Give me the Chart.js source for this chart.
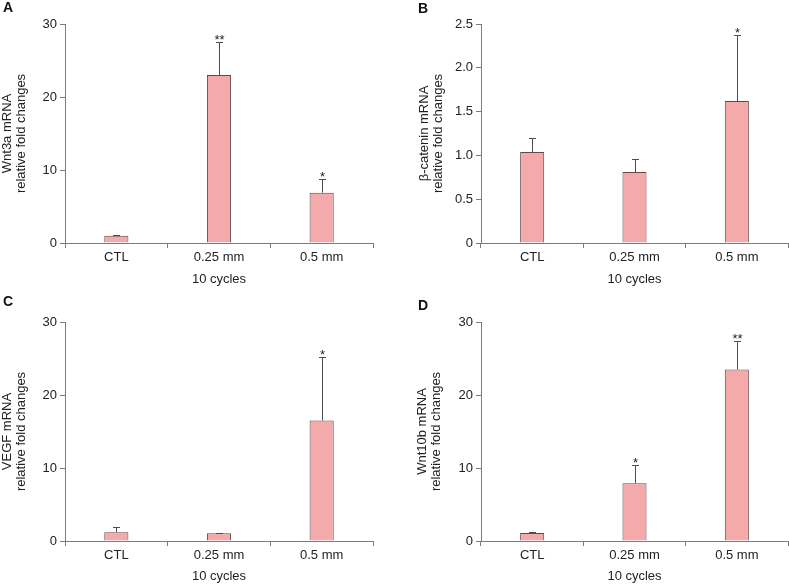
<!DOCTYPE html>
<html>
<head>
<meta charset="utf-8">
<script src="https://cdn.jsdelivr.net/npm/chart.js@4.4.1/dist/chart.umd.min.js"></script>
<style>
html, body { margin: 0; padding: 0; background: #fff; }
body { width: 789px; height: 584px; position: relative; overflow: hidden; }
canvas { position: absolute; }
.tag { position: absolute; font: bold 14px/14px "Liberation Sans", Arial, sans-serif; color: #111; }
</style>
</head>
<body>
<canvas id="pa" width="395" height="290" style="left:0;top:0"></canvas>
<canvas id="pb" width="389" height="290" style="left:400px;top:0"></canvas>
<canvas id="pc" width="395" height="294" style="left:0;top:290px"></canvas>
<canvas id="pd" width="389" height="294" style="left:400px;top:290px"></canvas>
<div class="tag" style="left:3px;top:0">A</div>
<div class="tag" style="left:418px;top:1px">B</div>
<div class="tag" style="left:3px;top:294px">C</div>
<div class="tag" style="left:418px;top:298px">D</div>
<script>
"use strict";

const CATEGORIES = ["CTL", "0.25 mm", "0.5 mm"];
const X_TITLE = "10 cycles";

const TICKS_30 = ["0", "10", "20", "30"];
const TICKS_25 = ["0", "0.5", "1.0", "1.5", "2.0", "2.5"];

// A - Wnt3a
const wnt3aMean  = [1.0, 23.0, 6.9];
const wnt3aSD    = [0.1, 4.6, 1.9];
const wnt3aStars = ["", "**", "*"];

// B - beta-catenin
const catMean  = [1.04, 0.81, 1.62];
const catSD    = [0.16, 0.145, 0.75];
const catStars = ["", "", "*"];

// C - VEGF
const vegfMean  = [1.2, 1.05, 16.5];
const vegfSD    = [0.65, 0.07, 8.7];
const vegfStars = ["", "", "*"];

// D - Wnt10b
const wnt10bMean  = [1.1, 7.9, 23.5];
const wnt10bSD    = [0.1, 2.5, 3.9];
const wnt10bStars = ["", "*", "**"];

const FILL = "#f4a9ab";
const EDGE = "#634848";
const AXIS = "#7b7b7b";
const INK = "#222222";
const FAMILY = '"Liberation Sans", Arial, sans-serif';
const FONT = { family: FAMILY, size: 13 };

// error bars (upper only) + significance stars
const errBars = {
    id: "errBars",
    afterDatasetsDraw(chart, args, o) {
        const y = chart.scales.y;
        const ctx = chart.ctx;
        const vals = chart.data.datasets[0].data;
        ctx.save();
        chart.getDatasetMeta(0).data.forEach((bar, i) => {
            const x = Math.round(bar.x) + 0.5;
            const base = y.getPixelForValue(vals[i]);
            const top = Math.round(y.getPixelForValue(vals[i] + o.sd[i])) + 0.5;
            ctx.strokeStyle = "#4d4d4d";
            ctx.lineWidth = 1;
            ctx.beginPath();
            ctx.moveTo(x, base);
            ctx.lineTo(x, top);
            ctx.moveTo(x - 3.5, top);
            ctx.lineTo(x + 3.5, top);
            ctx.stroke();
            if (o.stars[i]) {
                ctx.fillStyle = INK;
                ctx.font = "13px " + FAMILY;
                ctx.textAlign = "center";
                ctx.textBaseline = "alphabetic";
                ctx.fillText(o.stars[i], x, top + 1);
            }
        });
        ctx.restore();
    }
};

function panel(id, cfg) {
    new Chart(document.getElementById(id), {
        type: "bar",
        data: {
            labels: CATEGORIES,
            datasets: [{
                data: cfg.mean,
                backgroundColor: FILL,
                borderColor: EDGE,
                borderWidth: 1,
                categoryPercentage: 1,
                barPercentage: 0.235
            }]
        },
        options: {
            responsive: false,
            animation: false,
            events: [],
            layout: { padding: { top: cfg.top, right: cfg.right, left: 0, bottom: 0 } },
            plugins: {
                legend: { display: false },
                tooltip: { enabled: false },
                errBars: { sd: cfg.sd, stars: cfg.stars }
            },
            scales: {
                x: {
                    offset: true,
                    grid: { offset: true, drawOnChartArea: false, color: AXIS, tickLength: 5 },
                    border: { color: AXIS },
                    ticks: { color: INK, font: FONT, padding: 2 },
                    title: { display: true, text: X_TITLE, color: INK, font: FONT,
                             padding: { top: 0, bottom: cfg.xTitlePad } },
                    afterFit: s => { s.height = cfg.xHeight; }
                },
                y: {
                    min: 0,
                    max: cfg.max,
                    ticks: { stepSize: cfg.step, color: INK, font: FONT, padding: 3,
                             callback: (v, i) => cfg.tickLabels[i] },
                    grid: { drawOnChartArea: false, color: AXIS, tickLength: 5 },
                    border: { color: AXIS },
                    title: { display: true, text: cfg.title, color: INK,
                             font: { family: FAMILY, size: 13, lineHeight: 1.08 },
                             padding: { top: cfg.yTitlePad, bottom: 0 } },
                    afterFit: s => { s.width = cfg.yWidth; }
                }
            }
        },
        plugins: [errBars]
    });
}

panel("pa", { mean: wnt3aMean, sd: wnt3aSD, stars: wnt3aStars, max: 30, step: 10, tickLabels: TICKS_30,
    title: ["Wnt3a mRNA", "relative fold changes"], top: 24, right: 22, yWidth: 65, xHeight: 47, xTitlePad: 3, yTitlePad: 0 });
panel("pb", { mean: catMean, sd: catSD, stars: catStars, max: 2.5, step: 0.5, tickLabels: TICKS_25,
    title: ["\u03b2-catenin mRNA", "relative fold changes"], top: 24, right: 1, yWidth: 81, xHeight: 47, xTitlePad: 3, yTitlePad: 17 });
panel("pc", { mean: vegfMean, sd: vegfSD, stars: vegfStars, max: 30, step: 10, tickLabels: TICKS_30,
    title: ["VEGF mRNA", "relative fold changes"], top: 32, right: 22, yWidth: 65, xHeight: 43, xTitlePad: 0, yTitlePad: 0 });
panel("pd", { mean: wnt10bMean, sd: wnt10bSD, stars: wnt10bStars, max: 30, step: 10, tickLabels: TICKS_30,
    title: ["Wnt10b mRNA", "relative fold changes"], top: 32, right: 1, yWidth: 81, xHeight: 43, xTitlePad: 0, yTitlePad: 15 });
</script>
</body>
</html>
